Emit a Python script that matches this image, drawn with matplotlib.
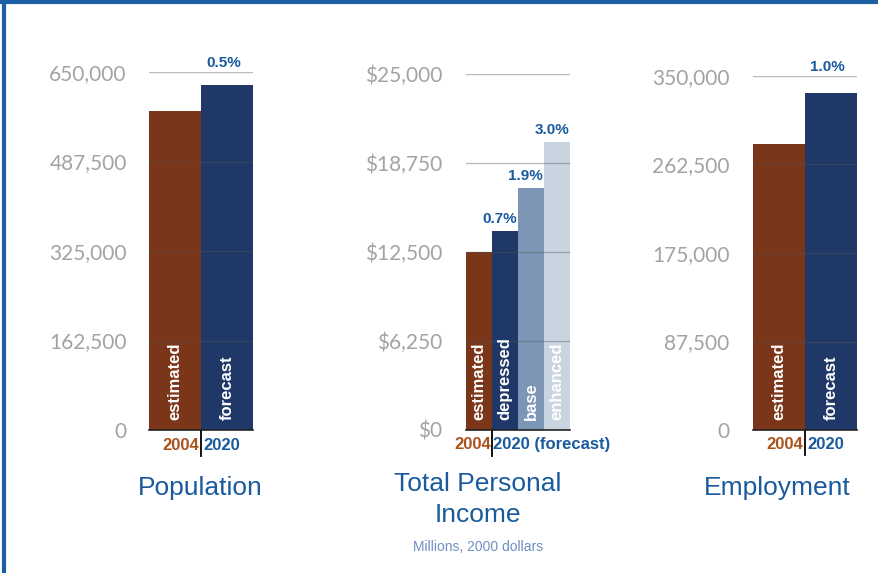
import numpy as np
import matplotlib.pyplot as plt
from matplotlib.lines import Line2D

# values
pop_labels = ['estimated', 'forecast']
pop_values = [580000, 626000]
pop_ticks = [0, 162500, 325000, 487500, 650000]
pop_ticklabels = ['0', '162,500', '325,000', '487,500', '650,000']

inc_labels = ['estimated', 'depressed', 'base', 'enhanced']
inc_values = [12500, 14000, 17000, 20250]
inc_growth = ['', '0.7%', '1.9%', '3.0%']
inc_ticks = [0, 6250, 12500, 18750, 25000]
inc_ticklabels = ['$0', '$6,250', '$12,500', '$18,750', '$25,000']

emp_labels = ['estimated', 'forecast']
emp_values = [283000, 333000]
emp_ticks = [0, 87500, 175000, 262500, 350000]
emp_ticklabels = ['0', '87,500', '175,000', '262,500', '350,000']

brown = '#7b3519'
navy = '#1f3868'
base_c = '#7d96b6'
enh_c = '#c9d4e1'
yr_brown = '#a9521c'
blue = '#1a5a9e'
tick_grey = '#a3a3a3'

plt.rcParams['font.family'] = ['Liberation Sans', 'DejaVu Sans']

fig = plt.figure(figsize=(8.79, 5.73), dpi=100)
W, H = 879, 573


def make_axes(x0, x1, ytop):
    ybot = 430
    return fig.add_axes([x0 / W, 1 - ybot / H, (x1 - x0) / W, (ybot - ytop) / H])


def style(ax, ticks, ticklabels, ymax, pad):
    ax.set_ylim(0, ymax)
    ax.set_yticks(ticks)
    ax.set_yticklabels(ticklabels, family='Lato', fontsize=15, color=tick_grey)
    ax.tick_params(axis='y', length=0, pad=pad)
    ax.set_xticks([])
    for s in ['left', 'right', 'top']:
        ax.spines[s].set_visible(False)
    ax.spines['bottom'].set_color('#222222')
    ax.spines['bottom'].set_linewidth(1.2)
    for t in ticks[1:]:
        ax.axhline(t, color='#555555', lw=1, alpha=0.4, zorder=3)


def year_marks(ax, split, left_text, right_text):
    ax.add_line(Line2D([split, split], [0, -0.072], transform=ax.get_xaxis_transform(),
                       color='black', lw=1.3, clip_on=False))
    ax.text(split - 0.04, -0.042, left_text, transform=ax.get_xaxis_transform(),
            ha='right', va='center', color=yr_brown, fontsize=12, fontweight='bold')
    ax.text(split + 0.04, -0.042, right_text, transform=ax.get_xaxis_transform(),
            ha='left', va='center', color=blue, fontsize=12, fontweight='bold')


def bar_labels(ax, xs, labels):
    for x, lab in zip(xs, labels):
        ax.text(x, 0.028, lab, transform=ax.get_xaxis_transform(), rotation=90,
                ha='center', va='bottom', color='white', fontsize=12, fontweight='bold',
                zorder=5)


def title(xpix, ypix, s, **kw):
    fig.text(xpix / W, 1 - ypix / H, s, ha='center', **kw)


# Population
ax1 = make_axes(149, 253, 72)
x = np.arange(len(pop_values))
ax1.bar(x, pop_values, width=1.0, color=[brown, navy], zorder=2)
ax1.set_xlim(-0.5, 1.5)
style(ax1, pop_ticks, pop_ticklabels, 650000, 16)
bar_labels(ax1, x, pop_labels)
year_marks(ax1, 0.5, '2004', '2020')
ax1.text(0.93, 650000 * 1.005, '0.5%', ha='center', va='bottom', color=blue,
         fontsize=11, fontweight='bold')
title(200, 488, 'Population', va='center', color=blue, fontsize=19)

# Total Personal Income
ax2 = make_axes(466, 570, 74)
x = np.arange(len(inc_values))
ax2.bar(x, inc_values, width=1.0, color=[brown, navy, base_c, enh_c], zorder=2)
ax2.set_xlim(-0.5, 3.5)
style(ax2, inc_ticks, inc_ticklabels, 25000, 17)
bar_labels(ax2, x, inc_labels)
year_marks(ax2, 0.5, '2004', '2020 (forecast)')
for xi, v, g in zip(x, inc_values, inc_growth):
    if g:
        ax2.text(xi - 0.2, v + 350, g, ha='center', va='bottom', color=blue,
                 fontsize=11, fontweight='bold')
title(478, 472, 'Total Personal\nIncome', va='top', color=blue, fontsize=19,
      linespacing=1.35)
title(478, 540, 'Millions, 2000 dollars', va='top', color='#6f8fc2', fontsize=10)

# Employment
ax3 = make_axes(753, 857, 76)
x = np.arange(len(emp_values))
ax3.bar(x, emp_values, width=1.0, color=[brown, navy], zorder=2)
ax3.set_xlim(-0.5, 1.5)
style(ax3, emp_ticks, emp_ticklabels, 350000, 17)
bar_labels(ax3, x, emp_labels)
year_marks(ax3, 0.5, '2004', '2020')
ax3.text(0.93, 350000 * 1.005, '1.0%', ha='center', va='bottom', color=blue,
         fontsize=11, fontweight='bold')
title(777, 488, 'Employment', va='center', color=blue, fontsize=19)

# frame lines at top and left edge
fig.add_artist(Line2D([4.5 / W, 4.5 / W], [0, 1], color='#1d5fa3', lw=3))
fig.add_artist(Line2D([0, 1], [1 - 1.5 / H, 1 - 1.5 / H], color='#1d5fa3', lw=3))

fig.savefig('out.png', dpi=100)
